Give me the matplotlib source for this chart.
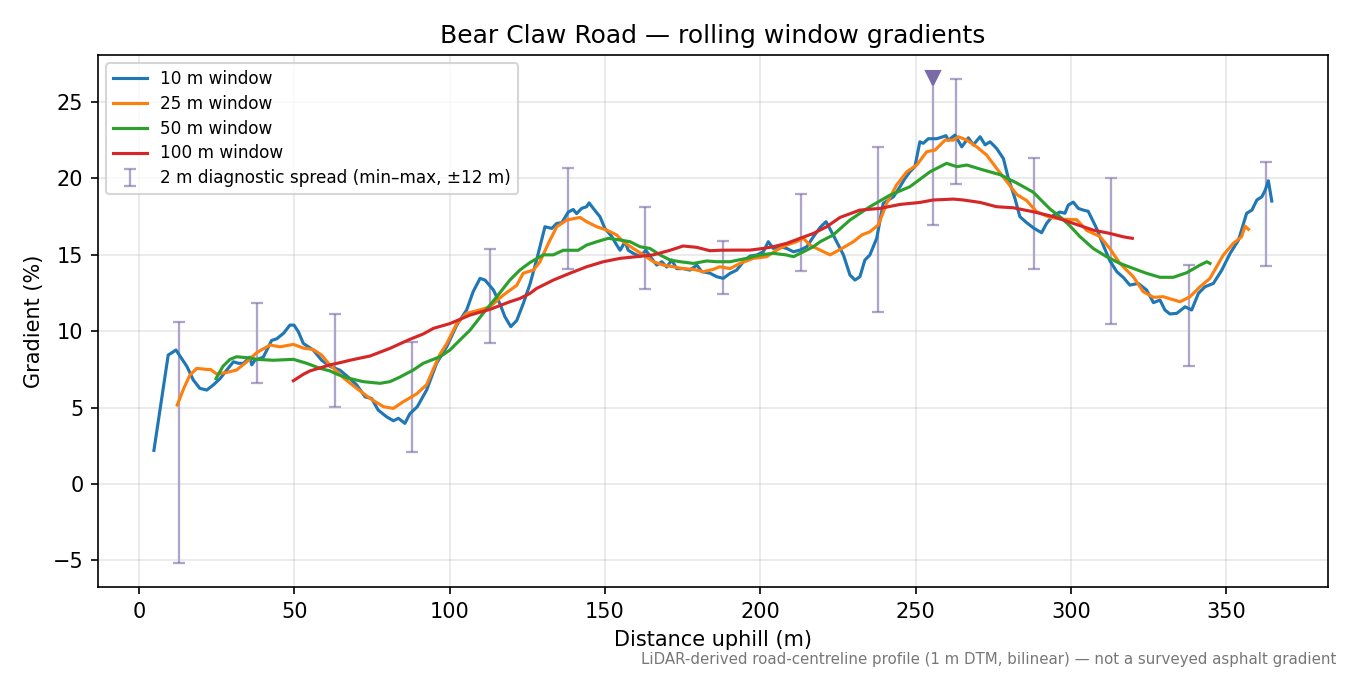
import matplotlib
matplotlib.use("Agg")
import matplotlib.pyplot as plt
import numpy as np

# --- data ------------------------------------------------------------------
x10 = [4.8, 7.0, 9.4, 11.9, 15.4, 17.5, 19.6, 21.8, 23.9, 26.1, 28.4, 30.4, 32.0,
       33.6, 35.7, 36.3, 37.3, 40.0, 42.7, 44.3, 46.5, 48.6, 49.9, 51.3, 52.9,
       56.1, 58.8, 61.5, 64.7, 67.9, 70.1, 72.8, 74.9, 77.0, 79.7, 81.9, 83.5,
       85.6, 87.2, 89.6, 92.6, 95.8, 99.1, 102.3, 105.5, 107.6, 109.8, 111.4,
       114.1, 116.2, 117.8, 119.7, 121.6, 123.7, 125.9, 128.0, 130.7, 132.9,
       134.5, 136.1, 138.2, 139.8, 140.9, 142.5, 144.1, 144.9, 146.8, 148.4,
       150.0, 152.2, 153.8, 154.9, 156.5, 157.5, 159.1, 161.3, 163.2, 165.0,
       166.7, 168.3, 169.9, 171.5, 173.1, 175.2, 177.4, 179.6, 181.2, 183.8,
       186.0, 188.1, 190.3, 192.4, 194.6, 196.7, 198.9, 201.0, 202.6, 204.2,
       206.4, 208.5, 210.7, 212.8, 215.0, 217.1, 219.3, 221.2, 223.5, 226.8,
       228.9, 230.5, 232.1, 233.7, 235.3, 237.5, 239.6, 241.3, 242.9, 245.0,
       246.6, 248.2, 249.8, 251.4, 252.5, 254.1, 256.8, 258.4, 259.8, 260.6,
       262.7, 264.9, 267.0, 268.6, 270.8, 272.4, 274.0, 276.1, 278.3, 279.9,
       282.0, 283.6, 285.8, 288.2, 290.6, 292.2, 294.4, 296.5, 298.1, 299.2,
       300.8, 302.4, 304.0, 305.6, 308.3, 310.5, 312.6, 314.8, 317.0, 319.0,
       321.7, 324.4, 326.6, 328.7, 330.3, 331.9, 334.1, 336.8, 338.9, 341.1,
       343.2, 345.9, 348.6, 351.3, 354.0, 356.6, 358.3, 359.9, 361.5, 362.6,
       363.6, 364.7]
g10 = [2.2, 5.2, 8.44, 8.77, 7.7, 6.8, 6.26, 6.15, 6.48, 6.9, 7.5, 8.0, 7.9,
       7.9, 8.3, 7.8, 8.1, 8.3, 9.4, 9.5, 9.86, 10.4, 10.4, 9.97, 9.2,
       8.77, 8.1, 7.7, 7.45, 6.9, 6.48, 5.7, 5.6, 4.84, 4.4, 4.14, 4.3,
       3.97, 4.6, 5.06, 6.15, 7.9, 9.0, 10.4, 11.4, 12.6, 13.46, 13.35,
       12.7, 11.8, 10.95, 10.3, 10.7, 11.8, 13.1, 14.66, 16.84, 16.73,
       17.06, 17.1, 17.8, 17.97, 17.7, 18.04, 18.15, 18.4, 17.9, 17.5,
       16.73, 16.2, 15.64, 15.3, 15.86, 15.3, 15.1, 14.9, 15.3, 14.77,
       14.33, 14.55, 14.2, 14.66, 14.1, 14.1, 14.0, 14.33, 13.9, 13.8,
       13.57, 13.46, 13.79, 14.0, 14.55, 14.92, 14.99, 15.2, 15.86, 15.42,
       15.53, 15.42, 15.2, 15.31, 15.53, 16.18, 16.8, 17.17, 16.3, 14.99,
       13.68, 13.35, 13.57, 14.66, 14.99, 16.08, 18.37, 18.59, 18.8, 19.46,
       20.0, 20.44, 20.77, 22.4, 22.3, 22.6, 22.6, 22.7, 22.8, 22.5,
       22.84, 22.07, 22.66, 22.2, 22.73, 22.2, 22.4, 21.97, 21.3, 20.0,
       18.7, 17.5, 17.1, 16.73, 16.45, 17.06, 17.6, 17.8, 17.72, 18.26,
       18.45, 18.04, 17.93, 17.85, 16.73, 15.6, 14.6, 13.9, 13.5, 13.02,
       13.13, 12.7, 11.87, 12.04, 11.39, 11.13, 11.17, 11.6, 11.39, 12.48,
       12.91, 13.13, 14.0, 15.1, 15.97, 17.72, 17.93, 18.59, 18.8, 19.24,
       19.85, 18.52]

x25 = [12.3, 14.5, 16.4, 18.6, 21.8, 23.0, 25.0, 28.2, 31.4, 34.7, 37.9, 42.2,
       45.4, 49.7, 52.9, 56.1, 58.8, 61.0, 63.0, 65.8, 70.1, 74.4, 78.7, 81.9,
       85.1, 89.4, 92.6, 94.5, 96.9, 99.1, 102.3, 105.5, 109.8, 113.0, 117.3,
       121.6, 123.7, 127.0, 129.1, 131.8, 134.5, 137.7, 142.0, 144.1, 147.4,
       150.6, 153.8, 155.9, 159.1, 162.4, 165.6, 168.8, 172.0, 175.2, 178.5,
       181.7, 184.9, 187.0, 190.3, 193.5, 197.8, 202.1, 205.3, 208.5, 211.7,
       213.9, 216.0, 219.3, 222.5, 225.7, 230.0, 232.7, 235.3, 238.0, 240.7,
       243.9, 247.2, 250.4, 253.6, 256.3, 259.5, 262.2, 263.8, 266.5, 269.7,
       272.9, 276.1, 279.4, 282.6, 285.8, 289.0, 293.3, 297.6, 301.9, 305.1,
       309.4, 312.6, 315.8, 320.1, 323.3, 326.6, 329.8, 332.5, 335.2, 338.4,
       341.6, 344.8, 349.1, 352.3, 355.0, 356.1, 357.2]
g25 = [5.17, 6.3, 7.13, 7.57, 7.5, 7.5, 7.2, 7.3, 7.46, 8.0, 8.6, 9.1,
       8.98, 9.14, 8.9, 8.8, 8.44, 7.9, 7.5, 6.95, 6.26, 5.6, 5.06, 4.95,
       5.39, 5.9, 6.5, 7.4, 8.5, 9.2, 10.5, 11.17, 11.4, 11.6, 12.37,
       13.0, 13.8, 14.0, 14.55, 15.75, 16.84, 17.28, 17.45, 17.17, 16.84,
       16.62, 16.3, 15.86, 15.42, 15.0, 14.55, 14.33, 14.22, 14.1, 14.05,
       13.9, 14.05, 14.22, 14.1, 14.44, 14.77, 14.88, 15.31, 15.64, 15.86,
       16.08, 15.64, 15.31, 15.0, 15.35, 15.86, 16.3, 16.51, 16.95, 18.37,
       19.57, 20.44, 20.88, 21.75, 21.86, 22.51, 22.51, 22.73, 22.51, 22.07,
       21.53, 20.66, 19.79, 18.95, 18.55, 17.82, 17.45, 17.33, 17.3, 16.6,
       16.2, 15.4, 14.44, 13.57, 12.59, 12.22, 12.26, 12.09, 11.93, 12.26,
       12.91, 13.46, 14.99, 15.75, 16.19, 16.88, 16.67]

x50 = [24.8, 27.0, 29.3, 31.4, 35.7, 37.9, 43.2, 49.7, 54.0, 58.3, 61.5, 63.6,
       66.9, 72.2, 77.6, 80.8, 84.0, 88.3, 91.5, 96.9, 100.1, 103.3, 106.6,
       110.8, 115.2, 119.4, 122.6, 125.9, 130.2, 133.4, 136.6, 141.4, 144.1,
       147.4, 151.1, 154.9, 158.1, 161.3, 164.5, 167.7, 171.0, 174.2, 178.5,
       182.8, 186.0, 190.3, 195.6, 199.9, 204.2, 208.5, 210.7, 213.9, 217.1,
       219.3, 223.5, 228.9, 235.3, 241.8, 248.2, 254.7, 260.0, 263.3, 266.5,
       271.9, 277.2, 282.6, 287.9, 293.3, 296.5, 299.7, 302.9, 307.2, 311.5,
       315.8, 320.1, 324.4, 328.7, 333.0, 337.3, 341.6, 343.8, 344.8]
g50 = [6.9, 7.7, 8.16, 8.33, 8.25, 8.16, 8.1, 8.16, 7.9, 7.57, 7.4, 7.2,
       6.95, 6.7, 6.59, 6.7, 7.0, 7.46, 7.9, 8.33, 8.77, 9.42, 10.08,
       11.17, 12.26, 13.35, 14.0, 14.5, 15.0, 15.0, 15.3, 15.3, 15.64,
       15.86, 16.08, 15.97, 15.86, 15.53, 15.42, 15.0, 14.66, 14.55, 14.44,
       14.6, 14.55, 14.55, 14.77, 14.99, 15.1, 14.99, 14.88, 15.2, 15.53,
       15.86, 16.3, 17.28, 18.15, 18.91, 19.46, 20.44, 20.99, 20.77, 20.88,
       20.55, 20.25, 19.7, 19.1, 18.0, 17.5, 16.9, 16.2, 15.42, 14.88,
       14.44, 14.11, 13.79, 13.53, 13.53, 13.83, 14.33, 14.55, 14.44]

x100 = [49.7, 52.9, 55.0, 58.3, 61.5, 64.7, 67.9, 74.4, 80.8, 87.2, 91.5, 94.8,
        100.1, 106.6, 113.0, 119.4, 122.7, 125.9, 128.0, 133.4, 138.8, 144.1,
        149.5, 154.9, 160.2, 165.6, 171.0, 175.2, 179.6, 183.8, 187.0, 191.3,
        196.7, 201.0, 204.2, 208.5, 212.8, 217.1, 221.4, 225.7, 232.1, 238.6,
        245.0, 251.4, 255.7, 262.2, 265.4, 270.8, 276.1, 281.5, 287.9, 294.4,
        300.8, 307.2, 312.6, 316.9, 319.8]
g100 = [6.76, 7.18, 7.4, 7.6, 7.8, 7.94, 8.1, 8.38, 8.88, 9.47, 9.82, 10.19,
        10.5, 11.06, 11.43, 11.93, 12.15, 12.48, 12.8, 13.35, 13.8, 14.22,
        14.55, 14.77, 14.88, 15.0, 15.3, 15.58, 15.49, 15.27, 15.3, 15.31,
        15.31, 15.42, 15.53, 15.75, 16.08, 16.4, 16.84, 17.45, 17.93, 18.04,
        18.3, 18.43, 18.59, 18.65, 18.59, 18.43, 18.15, 18.08, 17.82, 17.5,
        17.06, 16.62, 16.4, 16.18, 16.08]

# 2 m diagnostic spread (min / max within +-12 m)
spread_x = [13, 38, 63, 88, 113, 138, 163, 188, 213, 238, 255.6, 263, 288, 313, 338, 363]
spread_lo = [-5.2, 6.63, 5.06, 2.1, 9.25, 14.05, 12.78, 12.46, 13.96, 11.26,
             16.95, 19.65, 14.07, 10.49, 7.72, 14.27]
spread_hi = [10.6, 11.87, 11.1, 9.3, 15.36, 20.7, 18.15, 15.93, 18.96, 22.07,
             26.85, 26.5, 21.36, 20.05, 14.33, 21.07]

steepest_x = 255.6
steepest_g = 26.6

SPREAD_COLOR = "#7a6aa8"

fig = plt.figure(figsize=(9, 4.5), dpi=150)
ax = fig.add_axes([0.0726, 0.1304, 0.9111, 0.7881])

ax.plot(x10, g10, color="C0", lw=1.5, label="10 m window")
ax.plot(x25, g25, color="C1", lw=1.5, label="25 m window")
ax.plot(x50, g50, color="C2", lw=1.5, label="50 m window")
ax.plot(x100, g100, color="C3", lw=1.5, label="100 m window")

lo = np.array(spread_lo)
hi = np.array(spread_hi)
mid = (lo + hi) / 2
ax.errorbar(spread_x, mid, yerr=[mid - lo, hi - mid], fmt="none",
            ecolor=SPREAD_COLOR, elinewidth=1.1, capsize=2.8, capthick=1.1,
            alpha=0.6, zorder=1,
            label="2 m diagnostic spread (min–max, ±12 m)")
ax.plot([steepest_x], [steepest_g], marker="v", ms=6.5, color=SPREAD_COLOR,
        ls="none", zorder=3)

ax.set_xlim(-13.2, 382.8)
ax.set_ylim(-6.74, 28.08)
ax.grid(True, alpha=0.3)
ax.set_title("Bear Claw Road — rolling window gradients", fontsize=12)
ax.set_xlabel("Distance uphill (m)")
ax.set_ylabel("Gradient (%)")
ax.legend(loc="upper left", fontsize=8.1, labelspacing=0.4)

fig.text(0.99, 0.012,
         "LiDAR-derived road-centreline profile (1 m DTM, bilinear) — not a surveyed asphalt gradient",
         ha="right", va="bottom", fontsize=7.2, color="#777777")

fig.savefig("out.png", dpi=150)
